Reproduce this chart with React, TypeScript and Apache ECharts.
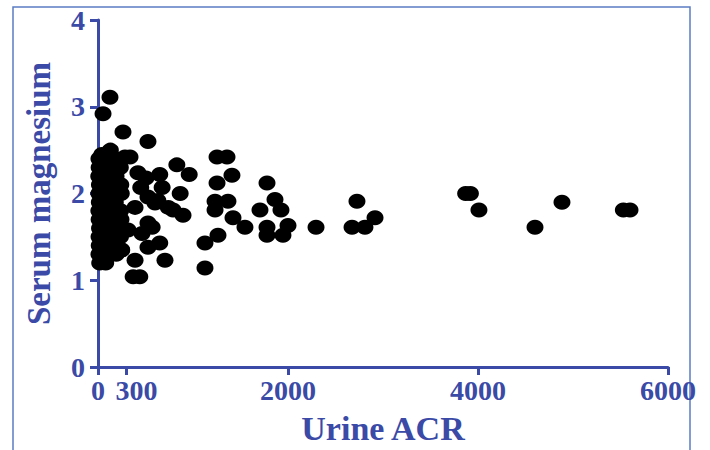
import React, { useEffect, useRef } from "react";
import * as echarts from "echarts";

const xTicks = [0, 300, 2000, 4000, 6000];
const yTicks = [0, 1, 2, 3, 4];

// Urine ACR values
const acr = [
  // dense core near 0-300
  10, 12, 8, 15, 10, 14, 9, 12, 16, 11, 13, 10, 18,
  40, 38, 45, 42, 36, 44, 40, 47, 39, 43, 41, 46, 38,
  80, 78, 85, 82, 76, 84, 80, 88, 79, 83, 81,
  130, 128, 135, 132, 126, 134, 129, 137, 131,
  185, 190, 182, 195, 188, 192,
  235, 240, 245, 238, 242, 236, 248,
  // fringe near 300-1100
  53, 126, 263, 526, 337, 284,
  830, 960, 650, 420, 865, 895, 740, 600, 675,
  570, 650, 705, 390, 370, 440, 250, 526, 463, 316, 526, 390, 526,
  505, 450, 630, 790, 1126, 1126,
  // middle 1200-3000
  1253, 1358, 1410, 1253, 1779, 1232, 1368, 1232, 1863, 1705, 1926,
  1421, 1547, 1779, 1779, 2000, 1947, 2295, 2726, 2674, 2810, 2916, 1263,
  // far right
  3870, 3920, 4010, 4600, 4884, 5530, 5600,
];

// Serum magnesium values
const mg = [
  2.4, 2.3, 2.2, 2.1, 2.0, 1.9, 1.8, 1.7, 1.6, 1.5, 1.4, 1.3, 1.2,
  2.45, 2.35, 2.25, 2.15, 2.05, 1.95, 1.85, 1.75, 1.65, 1.55, 1.45, 1.35, 1.25,
  2.4, 2.2, 2.0, 1.9, 1.8, 1.7, 1.6, 1.5, 1.4, 1.3, 1.2,
  2.5, 2.3, 2.1, 2.0, 1.8, 1.7, 1.5, 1.4, 1.3,
  2.4, 2.2, 1.9, 1.6, 1.4, 1.3,
  2.3, 2.1, 2.0, 1.8, 1.7, 1.5, 1.35,
  2.92, 3.11, 2.71, 2.6, 2.42, 2.42,
  2.33, 2.22, 2.22, 2.24, 2.0, 1.75, 1.84, 1.89, 2.07,
  1.61, 1.43, 1.23, 1.23, 1.04, 1.04, 1.35, 1.38, 1.54, 1.58, 1.66, 1.84, 1.96,
  2.18, 2.07, 1.92, 1.81, 1.43, 1.14,
  2.42, 2.42, 2.21, 2.12, 2.12, 1.91, 1.91, 1.81, 1.93, 1.81, 1.81,
  1.72, 1.61, 1.61, 1.52, 1.63, 1.52, 1.61, 1.91, 1.61, 1.61, 1.72, 1.52,
  2.0, 2.0, 1.81, 1.61, 1.9, 1.81, 1.81,
];

const BLUE = "#3a4aa6";
const FONT = "'Liberation Serif', 'Times New Roman', serif";

export default function App() {
  const ref = useRef<HTMLDivElement>(null);
  useEffect(() => {
    if (!ref.current) return;
    const chart = echarts.init(ref.current, null, { renderer: "svg" });
    const points = acr.map((x, i) => [x, mg[i]]);
    chart.setOption({
      animation: false,
      backgroundColor: "#ffffff",
      grid: { left: 98, right: 42, top: 20, bottom: 83, containLabel: false },
      graphic: [
        {
          type: "rect",
          shape: { x: 13, y: 7, width: 677, height: 470 },
          style: { fill: "none", stroke: "#5b7cc4", lineWidth: 1.5 },
          silent: true,
        },
      ],
      xAxis: {
        type: "value",
        min: 0,
        max: 6000,
        interval: 1000,
        name: "Urine ACR",
        nameLocation: "middle",
        nameGap: 44,
        nameTextStyle: { color: BLUE, fontFamily: FONT, fontWeight: "bold", fontSize: 34 },
        axisLine: { show: true, lineStyle: { color: BLUE, width: 3 } },
        axisTick: { show: true, length: 8, lineStyle: { color: BLUE, width: 3 }, customValues: xTicks },
        axisLabel: {
          customValues: xTicks,
          color: BLUE,
          fontFamily: FONT,
          fontWeight: "bold",
          fontSize: 28,
          margin: 9,
          formatter: (v: number) => (v === 300 ? "{s|300}" : String(v)),
          rich: {
            s: { color: BLUE, fontFamily: FONT, fontWeight: "bold", fontSize: 28, padding: [0, 0, 0, 20] },
          },
        },
        splitLine: { show: false },
      },
      yAxis: {
        type: "value",
        min: 0,
        max: 4,
        interval: 1,
        name: "Serum magnesium",
        nameLocation: "middle",
        nameGap: 43,
        nameRotate: 90,
        nameTextStyle: { color: BLUE, fontFamily: FONT, fontWeight: "bold", fontSize: 33 },
        axisLine: { show: true, lineStyle: { color: BLUE, width: 3 } },
        axisTick: { show: true, length: 8, lineStyle: { color: BLUE, width: 3 } },
        axisLabel: {
          color: BLUE,
          fontFamily: FONT,
          fontWeight: "bold",
          fontSize: 28,
          margin: 13,
          formatter: (v: number) => (yTicks.includes(v) ? String(v) : ""),
        },
        splitLine: { show: false },
      },
      series: [
        {
          type: "scatter",
          data: points,
          symbol: "circle",
          symbolSize: [17, 15],
          itemStyle: { color: "#000000", opacity: 1 },
        },
      ],
    });
    return () => chart.dispose();
  }, []);
  return (
    <div
      ref={ref}
      style={{ position: "fixed", left: 0, top: 0, width: 710, height: 450, background: "#fff" }}
    />
  );
}
